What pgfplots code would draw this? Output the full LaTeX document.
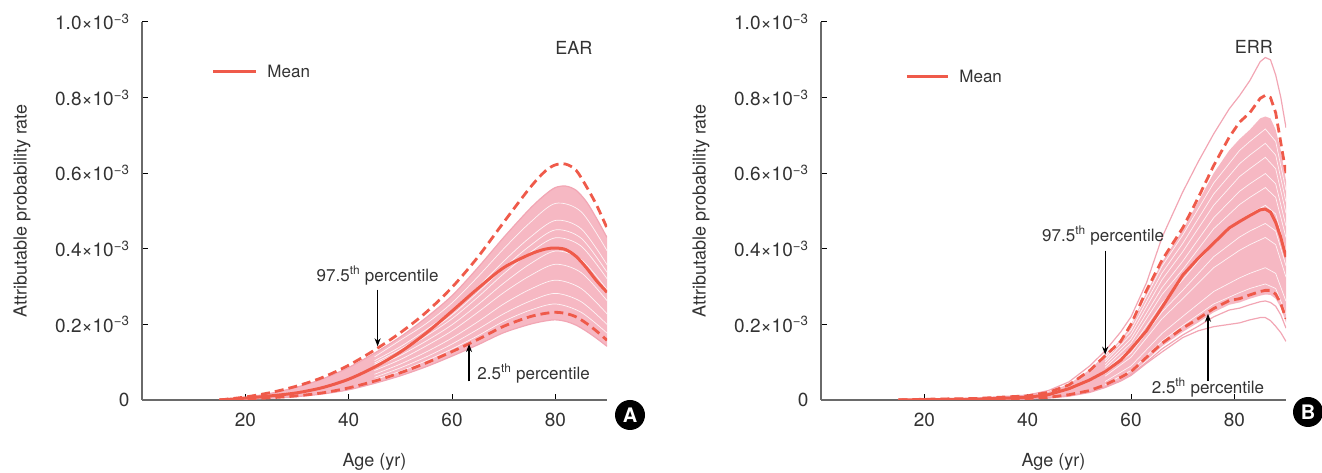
\documentclass[border=0pt]{standalone}
\usepackage{pgfplots}
\pgfplotsset{compat=1.18}
\usepackage{pgfplotstable}
\usepgfplotslibrary{fillbetween}
\usetikzlibrary{arrows.meta}
\usepackage{fontspec}
\setmainfont{TeX Gyre Heros}
\definecolor{coral}{HTML}{EF5A4A}
\definecolor{pinkb}{HTML}{F6B8C3}
\definecolor{pinkl}{HTML}{F2A6B4}
\definecolor{txt}{HTML}{333333}
\definecolor{axc}{HTML}{6A6A6A}

% EAR: x, mean, 97.5 pct, 2.5 pct, band top, band bottom  (units of 1e-3)
\pgfplotstableread{
x  mean  up    lo    top   bot
15 0     0     0     0     0
20 .005  .008  .002  .007  .0015
25 .011  .02   .006  .018  .005
30 .019  .037  .011  .034  .009
35 .033  .06   .019  .056  .016
40 .055  .092  .032  .086  .027
45 .087  .132  .05   .124  .044
50 .127  .178  .072  .167  .064
55 .177  .232  .098  .218  .088
60 .235  .298  .128  .276  .116
65 .295  .378  .16   .35   .146
70 .35   .47   .195  .43   .178
75 .385  .56   .22   .505  .2
78 .399  .605  .229  .543  .209
80 .402  .622  .232  .562  .212
82 .398  .624  .229  .566  .208
84 .38   .608  .22   .555  .198
86 .35   .565  .203  .525  .182
88 .315  .515  .182  .48   .163
90 .285  .455  .158  .43   .142
}\ear

\pgfplotstableread{
x  a    b    c    d    e    f    g    h    i
45 .054 .068 .078 .094 .104 .114 .060 .086 .098
50 .076 .095 .107 .128 .141 .158 .085 .118 .134
55 .104 .127 .143 .169 .186 .202 .114 .156 .176
60 .135 .164 .183 .215 .236 .257 .148 .199 .225
65 .170 .207 .232 .272 .299 .326 .187 .252 .285
70 .208 .254 .284 .334 .367 .4   .228 .309 .349
75 .237 .292 .328 .389 .429 .468 .261 .359 .407
80 .254 .317 .359 .429 .475 .52  .282 .394 .45
85 .232 .295 .337 .407 .453 .498 .26  .372 .428
90 .177 .228 .263 .321 .358 .395 .2   .292 .338
}\earw

% ERR: x, mean, 97.5 pct, 2.5 pct, top line, lowest line, band bottom, band top, extra line
\pgfplotstableread{
x  mean  up    lo    top   low   bot   ttop  ext
15 0     0     0     0     0     0     0     0
20 .001  .002  .0005 .002  0     0     .002  0
30 .002  .004  .001  .005  .001  .001  .004  .001
40 .007  .011  .004  .013  .003  .003  .012  .003
44 .014  .02   .007  .025  .005  .006  .022  .006
48 .03   .04   .014  .048  .01   .012  .042  .012
52 .053  .078  .025  .09   .02   .022  .08   .022
55 .075  .117  .04   .13   .033  .036  .12   .035
58 .105  .155  .06   .18   .05   .055  .16   .053
60 .135  .2    .075  .22   .065  .07   .2    .068
63 .183  .29   .113  .31   .097  .105  .285  .1
66 .245  .37   .15   .43   .127  .142  .365  .135
70 .33   .455  .19   .55   .165  .18   .45   .172
73 .375  .535  .215  .63   .183  .205  .525  .195
76 .415  .62   .242  .704  .194  .232  .6    .22
79 .455  .695  .263  .77   .2    .252  .66   .238
81 .472  .735  .268  .805  .204  .258  .69   .243
83 .488  .76   .278  .845  .212  .268  .715  .252
85 .503  .798  .287  .895  .218  .276  .745  .26
86 .505  .806  .29   .906  .218  .279  .75   .262
87 .497  .8    .29   .9    .21   .278  .745  .258
88 .47   .76   .28   .86   .195  .268  .715  .248
89 .43   .68   .255  .8    .178  .244  .66   .225
90 .378  .6    .215  .72   .155  .205  .58   .19
}\err

\pgfplotstableread{
x  a    b    c    d    e    f    g    h    i    j
55 .049 .063 .078 .093 .107 .041 .07  .086 .101 .114
60 .090 .113 .138 .162 .185 .078 .124 .151 .174 .196
66 .176 .215 .256 .297 .336 .156 .233 .279 .318 .354
70 .221 .268 .318 .367 .414 .197 .29  .345 .392 .436
76 .287 .350 .416 .482 .545 .254 .379 .453 .515 .574
81 .323 .396 .474 .552 .625 .284 .431 .517 .591 .66
83 .335 .411 .492 .572 .648 .295 .447 .536 .612 .684
86 .350 .430 .515 .599 .679 .307 .467 .562 .642 .717
88 .335 .411 .492 .572 .648 .295 .447 .536 .612 .684
90 .261 .325 .393 .460 .524 .228 .355 .43  .494 .554
}\errw

\tikzset{
  wline/.style={white, line width=0.7pt, opacity=0.85},
  dline/.style={coral, line width=2.8pt, dash pattern=on 9pt off 5pt},
  mline/.style={coral, line width=3pt},
  afont/.style={font=\fontsize{17}{20}\selectfont, text=txt},
}
\pgfplotsset{
  panel/.style={
    scale only axis, width=465pt, height=378pt, anchor=south west,
    xmin=0, xmax=90, ymin=0, ymax=1,
    axis x line=bottom, axis y line=left,
    axis line style={-, draw=axc, line width=1.2pt},
    xtick={20,40,60,80}, xticklabels={20,40,60,80},
    ytick={0,0.2,0.4,0.6,0.8,1},
    yticklabels={0,{0.2×10\textsuperscript{−3}},{0.4×10\textsuperscript{−3}},{0.6×10\textsuperscript{−3}},{0.8×10\textsuperscript{−3}},{1.0×10\textsuperscript{−3}}},
    tick align=inside, major tick length=6pt,
    tick style={black, line width=1pt},
    ticklabel style={font=\fontsize{19}{22}\selectfont, text=txt},
    xticklabel style={yshift=-9pt},
    yticklabel style={xshift=-9pt},
    xlabel={Age (yr)}, ylabel={Attributable probability rate},
    label style={font=\fontsize{18}{21}\selectfont, text=txt},
    xlabel style={at={(axis description cs:0.5,-0.164)}, anchor=center},
    ylabel style={at={(axis description cs:-0.258,0.5)}, anchor=center},
  },
}

\begin{document}
\begin{tikzpicture}

% ---------------- Panel A: EAR ----------------
\begin{axis}[panel, at={(142pt,73pt)}]
\addplot[draw=none, smooth, name path=eT] table[x=x,y=top]{\ear};
\addplot[draw=none, smooth, name path=eB] table[x=x,y=bot]{\ear};
\addplot[pinkb] fill between[of=eT and eB];
\foreach \c in {a,b,c,d,e,f,g,h,i}{
  \addplot[wline, smooth] table[x=x,y=\c]{\earw};
}
\addplot[pinkl, line width=1.2pt, smooth] table[x=x,y=top]{\ear};
\addplot[pinkl, line width=1.2pt, smooth] table[x=x,y=bot]{\ear};
\addplot[dline, smooth] table[x=x,y=up]{\ear};
\addplot[dline, smooth] table[x=x,y=lo]{\ear};
\addplot[mline, smooth] table[x=x,y=mean]{\ear};
\draw[coral, line width=3pt] (axis cs:13.8,0.868) -- (axis cs:22,0.868);
\node[afont, anchor=west] at (axis cs:23.6,0.868) {Mean};
\node[font=\fontsize{18}{21}\selectfont, text=txt] at (axis cs:83.6,0.932) {EAR};
\node[afont] at (axis cs:45.6,0.329) {97.5\textsuperscript{th} percentile};
\draw[-{Stealth[length=8pt,width=6pt]}, line width=1.3pt] (axis cs:45.6,0.292) -- (axis cs:45.6,0.142);
\node[afont] at (axis cs:75.8,0.07) {2.5\textsuperscript{th} percentile};
\draw[-{Stealth[length=8pt,width=6pt]}, line width=1.3pt] (axis cs:63.3,0.049) -- (axis cs:63.3,0.148);
\end{axis}

% ---------------- Panel B: ERR ----------------
\begin{axis}[panel, at={(821pt,73pt)}]
\addplot[draw=none, name path=rT] table[x=x,y=ttop]{\err};
\addplot[draw=none, name path=rB] table[x=x,y=bot]{\err};
\addplot[pinkb] fill between[of=rT and rB];
\foreach \c in {a,b,c,d,e,f,g,h,i,j}{
  \addplot[wline] table[x=x,y=\c]{\errw};
}
\addplot[pinkl, line width=1.2pt] table[x=x,y=top]{\err};
\addplot[pinkl, line width=1.2pt] table[x=x,y=low]{\err};
\addplot[pinkl, line width=1.2pt] table[x=x,y=ext]{\err};
\addplot[dline] table[x=x,y=up]{\err};
\addplot[dline] table[x=x,y=lo]{\err};
\addplot[mline] table[x=x,y=mean]{\err};
\draw[coral, line width=3pt] (axis cs:16.6,0.856) -- (axis cs:24.6,0.856);
\node[afont, anchor=west] at (axis cs:26.1,0.856) {Mean};
\node[font=\fontsize{18}{21}\selectfont, text=txt] at (axis cs:83.8,0.935) {ERR};
\node[afont] at (axis cs:54.6,0.435) {97.5\textsuperscript{th} percentile};
\draw[-{Stealth[length=8pt,width=6pt]}, line width=1.3pt] (axis cs:55,0.395) -- (axis cs:55,0.12);
\node[afont] at (axis cs:74.9,0.033) {2.5\textsuperscript{th} percentile};
\draw[-{Stealth[length=8pt,width=6pt]}, line width=1.3pt] (axis cs:74.9,0.05) -- (axis cs:74.9,0.228);
\end{axis}

\node[circle, fill=black, text=white, inner sep=0pt, minimum size=30pt, font=\bfseries\fontsize{20}{20}\selectfont] at (630pt,58pt) {A};
\node[circle, fill=black, text=white, inner sep=0pt, minimum size=30pt, font=\bfseries\fontsize{20}{20}\selectfont] at (1308pt,61pt) {B};
\pgfresetboundingbox
\path[use as bounding box] (0,0) rectangle (1322pt,473pt);
\end{tikzpicture}
\end{document}
